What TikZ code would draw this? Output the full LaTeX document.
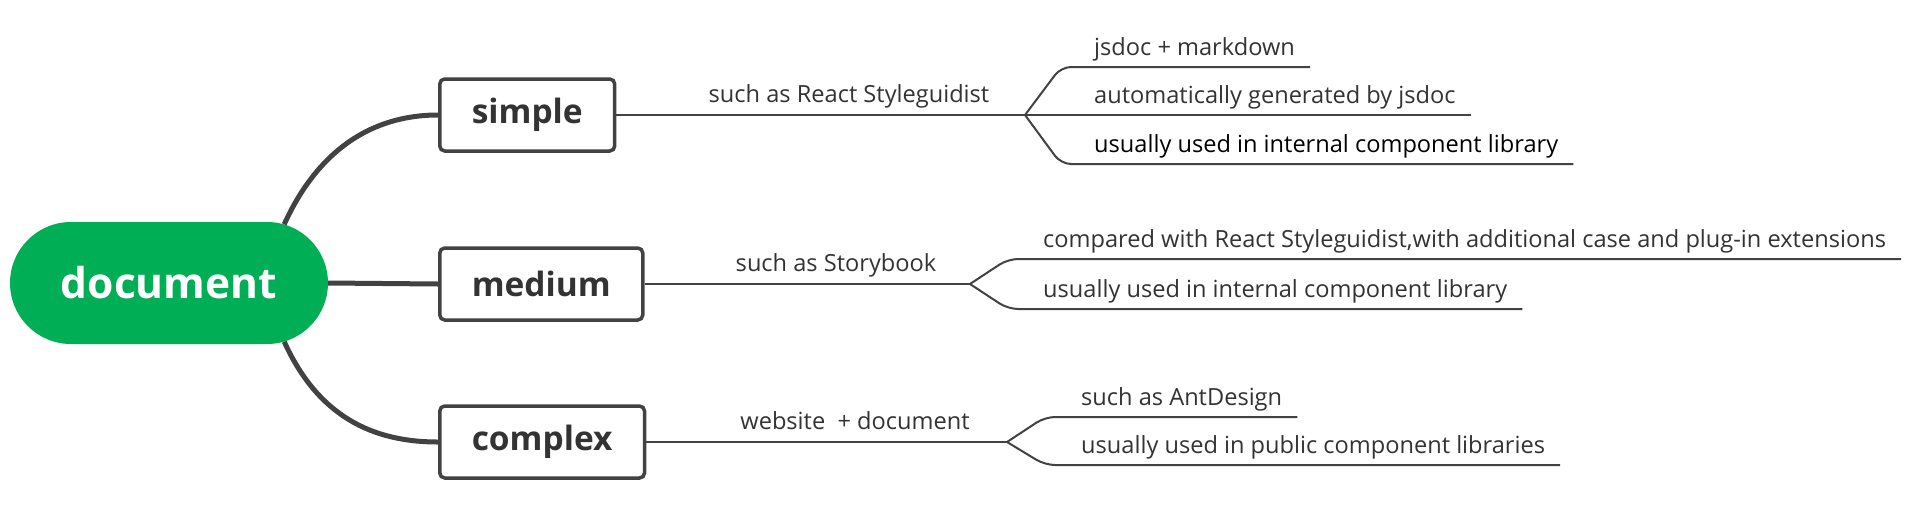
\documentclass[tikz,border=0pt]{standalone}
\usepackage{fontspec}
\setmainfont{Open Sans}
\usetikzlibrary{shapes.misc}
\definecolor{inkgray}{HTML}{424242}
\definecolor{txtgray}{HTML}{333333}
\definecolor{rootgreen}{HTML}{00AF55}
\begin{document}
\begin{tikzpicture}[x=1pt,y=-1pt,
	root/.style={rounded rectangle, fill=rootgreen, text=white, inner sep=0pt,
		minimum width=318pt, minimum height=122pt, font=\bfseries\fontsize{42.5}{46}\selectfont},
	topic/.style={draw=inkgray, line width=3.5pt, rounded corners=5pt, fill=white, anchor=west,
		text=txtgray, inner xsep=32pt, minimum height=72pt, font=\bfseries\fontsize{33.5}{38}\selectfont},
	limb/.style={inkgray, line width=5pt},
	twig/.style={inkgray, line width=2pt, rounded corners=10pt},
	leaf/.style={anchor=south west, inner sep=0pt, text depth=11pt, text=txtgray, font=\fontsize{23.6}{27}\selectfont},
	tag/.style={anchor=south, inner sep=0pt, text depth=12pt, text=txtgray, font=\fontsize{23.6}{27}\selectfont}]
	\useasboundingbox (0,0) rectangle (1926,504);

	% centre and the three topics
	\node[root] (doc) at (169,283) {document};
	\node[topic] (simple) at (438,115) {simple};
	\node[topic] (medium) at (438,284) {medium};
	\node[topic] (complex) at (438,442) {complex};

	\draw[limb] (doc.27) .. controls (318,150) and (372,115) .. (simple.west);
	\draw[limb] (doc.east) -- (medium.west);
	\draw[limb] (doc.-27) .. controls (318,416) and (372,442) .. (complex.west);

	% simple
	\coordinate (sfork) at (1025,115);
	\node[tag] (stag) at (849,115) {such as React Styleguidist};
	\node[leaf] (s1) at (1094,67) {jsdoc + markdown};
	\node[leaf] (s2) at (1094,115) {automatically generated by jsdoc};
	\node[leaf, text=black] (s3) at (1094,164) {usually used in internal component library};
	\draw[twig] (simple.east) -- (sfork);
	\draw[twig] (sfork) -- ([xshift=-33pt]s1.south west) -- ([xshift=15pt]s1.south east);
	\draw[twig] (sfork) -- ([xshift=15pt]s2.south east);
	\draw[twig] (sfork) -- ([xshift=-33pt]s3.south west) -- ([xshift=15pt]s3.south east);

	% medium
	\coordinate (mfork) at (970,284);
	\node[tag] (mtag) at (836,284) {such as Storybook};
	\node[leaf] (m1) at (1043,259) {compared with React Styleguidist,with additional case and plug-in extensions};
	\node[leaf] (m2) at (1043,309) {usually used in internal component library};
	\draw[twig] (medium.east) -- (mfork);
	\draw[twig] (mfork) -- ([xshift=-35pt]m1.south west) -- ([xshift=15pt]m1.south east);
	\draw[twig] (mfork) -- ([xshift=-35pt]m2.south west) -- ([xshift=15pt]m2.south east);

	% complex
	\coordinate (cfork) at (1007,442);
	\node[tag] (ctag) at (855,442) {website \ + document};
	\node[leaf] (c1) at (1081,417) {such as AntDesign};
	\node[leaf] (c2) at (1081,465) {usually used in public component libraries};
	\draw[twig] (complex.east) -- (cfork);
	\draw[twig] (cfork) -- ([xshift=-36pt]c1.south west) -- ([xshift=15pt]c1.south east);
	\draw[twig] (cfork) -- ([xshift=-36pt]c2.south west) -- ([xshift=15pt]c2.south east);
\end{tikzpicture}
\end{document}
